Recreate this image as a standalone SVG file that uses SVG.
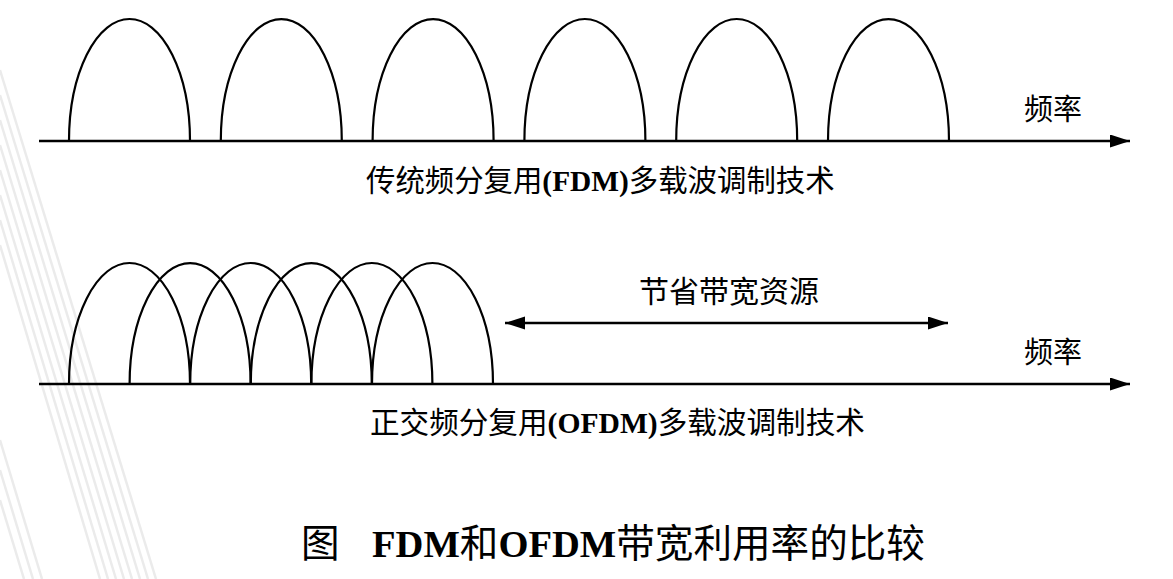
<svg xmlns="http://www.w3.org/2000/svg" width="1173" height="579" viewBox="0 0 1173 579">
<style>
.bg{stroke:#ebebeb;stroke-width:2.5;fill:none}
.axis{stroke:#000;stroke-width:2.4;fill:none}
.arch{stroke:#000;stroke-width:2.2;fill:none}
.t{font-family:"Liberation Serif","Noto Sans CJK SC",serif;fill:#000}
.b{font-weight:bold}
</style>
<defs>
<marker id="ah" markerUnits="userSpaceOnUse" markerWidth="22" markerHeight="14" refX="20" refY="6.5" orient="auto-start-reverse" viewBox="0 0 22 14">
<path d="M0,0 L20,6.5 L0,13 z" fill="#000"/>
</marker>
</defs>
<rect width="1173" height="579" fill="#fff"/>
<g id="background">
<line class="bg" x1="0" y1="70" x2="156" y2="579"/>
<line class="bg" x1="0" y1="95" x2="148" y2="579"/>
<line class="bg" x1="0" y1="120" x2="140" y2="579"/>
<line class="bg" x1="0" y1="145" x2="132" y2="579"/>
<line class="bg" x1="0" y1="170" x2="124" y2="579"/>
<line class="bg" x1="0" y1="195" x2="116" y2="579"/>
<line class="bg" x1="0" y1="220" x2="108" y2="579"/>
<line class="bg" x1="0" y1="245" x2="100" y2="579"/>
<line class="bg" x1="0" y1="440" x2="42" y2="579"/>
<line class="bg" x1="0" y1="470" x2="33" y2="579"/>
<line class="bg" x1="0" y1="500" x2="24" y2="579"/>
</g>
<g id="fdm-carriers">
<path class="arch" d="M69,141 A60.5,122 0 0 1 190,141"/>
<path class="arch" d="M220.8,141 A60.5,122 0 0 1 341.8,141"/>
<path class="arch" d="M372.6,141 A60.5,122 0 0 1 493.6,141"/>
<path class="arch" d="M524.4,141 A60.5,122 0 0 1 645.4,141"/>
<path class="arch" d="M676.2,141 A60.5,122 0 0 1 797.2,141"/>
<path class="arch" d="M828,141 A60.5,122 0 0 1 949,141"/>
</g>
<g id="ofdm-carriers">
<path class="arch" d="M69,384 A60.5,121 0 0 1 190,384"/>
<path class="arch" d="M129.6,384 A60.5,121 0 0 1 250.6,384"/>
<path class="arch" d="M190.2,384 A60.5,121 0 0 1 311.2,384"/>
<path class="arch" d="M250.8,384 A60.5,121 0 0 1 371.8,384"/>
<path class="arch" d="M311.4,384 A60.5,121 0 0 1 432.4,384"/>
<path class="arch" d="M372,384 A60.5,121 0 0 1 493,384"/>
</g>
<g id="connectors">
<line class="axis" x1="39" y1="141" x2="1130" y2="141" marker-end="url(#ah)"/>
<line class="axis" x1="39" y1="384" x2="1130" y2="384" marker-end="url(#ah)"/>
<line class="axis" x1="505" y1="323" x2="948" y2="323" marker-start="url(#ah)" marker-end="url(#ah)"/>
</g>
<g id="labels">
<text class="t" x="1024" y="119.5" font-size="29">频率</text>
<text class="t" x="1024" y="363" font-size="29">频率</text>
<text class="t" x="639" y="302" font-size="30">节省带宽资源</text>
<text class="t" x="366" y="191" font-size="29.4">传统频分复用<tspan class="b">(FDM)</tspan>多载波调制技术</text>
<text class="t" x="370" y="433" font-size="29.6">正交频分复用<tspan class="b">(OFDM)</tspan>多载波调制技术</text>
<text class="t" y="557" font-size="38.6"><tspan x="301">图</tspan><tspan x="372" class="b">FDM</tspan>和<tspan class="b">OFDM</tspan>带宽利用率的比较</text>
</g>
</svg>
